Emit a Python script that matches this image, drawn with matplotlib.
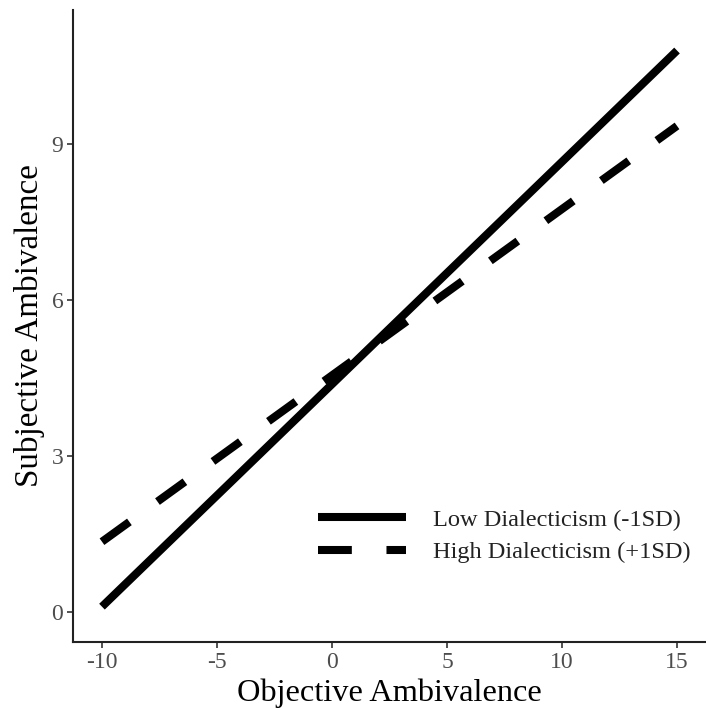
import matplotlib
matplotlib.use("Agg")
import matplotlib.pyplot as plt

x = [-10, 15]
low = [0.1, 10.8]
high = [1.35, 9.35]
labels = ["Low Dialecticism (-1SD)", "High Dialecticism (+1SD)"]
xticks = [-10, -5, 0, 5, 10, 15]
yticks = [0, 3, 6, 9]

plt.rcParams['font.family'] = ['Liberation Serif', 'DejaVu Serif']
plt.rcParams['axes.unicode_minus'] = False

fig = plt.figure(figsize=(7.06, 7.08), dpi=100)
ax = fig.add_axes([0.1034, 0.0932, 0.8966, 0.8927])

lw = 5.8
ax.plot(x, low, color='black', lw=lw, solid_capstyle='butt', label=labels[0])
ax.plot(x, high, color='black', lw=lw, linestyle=(0, (4.2, 4.3)),
        dash_capstyle='butt', label=labels[1])

ax.set_xlim(-11.26, 16.26)
ax.set_ylim(-0.58, 11.58)
ax.set_xticks(xticks)
ax.set_yticks(yticks)
ax.tick_params(axis='both', labelsize=17, colors='#333333', labelcolor='#4d4d4d',
               length=4, width=1.2, direction='out', pad=3)
for s in ['top', 'right']:
    ax.spines[s].set_visible(False)
for s in ['left', 'bottom']:
    ax.spines[s].set_linewidth(1.5)
    ax.spines[s].set_color('#222222')

ax.set_xlabel("Objective Ambivalence", fontsize=23.3, labelpad=4.5)
ax.set_ylabel("Subjective Ambivalence", fontsize=23.9, labelpad=5)

leg = ax.legend(loc='lower right', bbox_to_anchor=(1.01, 0.09), frameon=False,
                fontsize=17.6, handlelength=3.6, labelspacing=0.42, handletextpad=1.1)
for t in leg.get_texts():
    t.set_color('#222222')

fig.savefig("out.png", dpi=100)
